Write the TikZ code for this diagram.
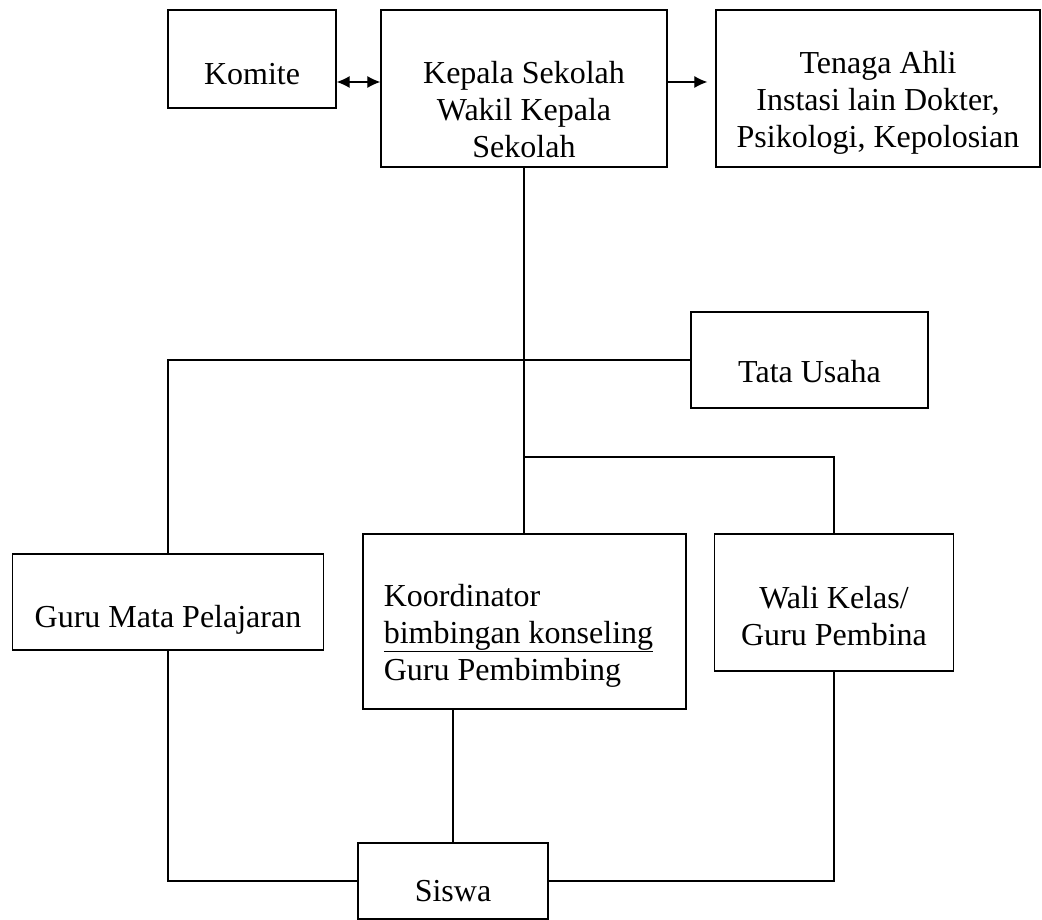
\documentclass[tikz,border=0pt]{standalone}
\usepackage{fontspec}
\setmainfont{Liberation Serif}
\usepackage{tikz}
\usetikzlibrary{positioning, arrows.meta}

\begin{document}
\begin{tikzpicture}[
    x=1pt, y=1pt,
    >={Latex[length=13pt,width=12pt]},
    box/.style={
        rectangle,
        draw=black,
        line width=1.3pt,
        inner sep=0pt
    },
    txt/.style={
        align=center,
        font=\fontsize{32}{37}\selectfont,
        inner sep=0pt
    },
    link/.style={
        line width=1.2pt
    }
]
\useasboundingbox (0,0) rectangle (1042,-920);

% --- top row ---
\node[box, minimum width=168pt, minimum height=98pt,
      label={[txt, yshift=-15pt]center:Komite}] (komite) at (252,-59) {};
\node[box, minimum width=286pt, minimum height=157pt,
      label={[txt, yshift=-21pt]center:Kepala Sekolah\\Wakil Kepala\\Sekolah}] (kepala) at (524,-88.5) {};
\node[box, minimum width=324pt, minimum height=157pt,
      label={[txt, yshift=-14pt]center:Tenaga Ahli\\Instasi lain Dokter,\\Psikologi, Kepolosian}] (tenaga) at (878,-88.5) {};

% --- middle ---
\node[box, minimum width=237pt, minimum height=96pt,
      label={[txt, yshift=-12pt]center:Tata Usaha}] (tata) at (809.5,-360) {};

% --- lower row ---
\node[box, minimum width=311pt, minimum height=96pt,
      label={[txt, yshift=-18pt]center:Guru Mata Pelajaran}] (guru) at (168,-602) {};
\node[box, minimum width=323pt, minimum height=175pt,
      label={[txt, align=left, xshift=-6pt, yshift=-14pt]center:Koordinator\\\underline{bimbingan konseling}\\Guru Pembimbing}] (koord) at (524.5,-621.5) {};
\node[box, minimum width=239pt, minimum height=137pt,
      label={[txt, yshift=-14pt]center:Wali Kelas/\\Guru Pembina}] (wali) at (834,-602.5) {};

\node[box, minimum width=190pt, minimum height=76pt,
      label={[txt, yshift=-10pt]center:Siswa}] (siswa) at (453,-881) {};

\coordinate (arrowrow) at (0,-82);
\coordinate (branch) at (524,-457);

% --- connectors ---
\draw[link, <->] (komite.east |- arrowrow) -- (kepala.west |- arrowrow);
\draw[link, ->, shorten >=8pt] (kepala.east |- arrowrow) -- (tenaga.west |- arrowrow);
\draw[link] (kepala.south) -- (kepala.south |- koord.north);
\draw[link] (tata.west) -| (guru.north);
\draw[link] (branch) -| (wali.north);
\draw[link] (koord.south -| siswa.north) -- (siswa.north);
\draw[link] (guru.south) |- (siswa.west);
\draw[link] (wali.south) |- (siswa.east);

\end{tikzpicture}
\end{document}
